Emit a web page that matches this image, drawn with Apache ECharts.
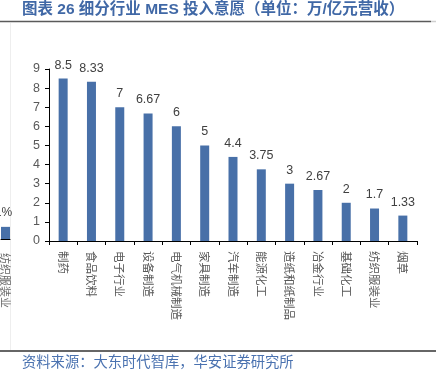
<!DOCTYPE html>
<html>
<head>
<meta charset="utf-8">
<script src="https://cdn.jsdelivr.net/npm/echarts@6/dist/echarts.min.js"></script>
<style>
html,body{margin:0;padding:0;background:#fff;}
#c{width:436px;height:373px;}
</style>
</head>
<body>
<div id="c"></div>
<script>
// Data
var categories = ['制药','食品饮料','电子行业','设备制造','电气机械制造','家具制造','汽车制造','能源化工','造纸和纸制品','冶金行业','基础化工','纺织服装业','烟草'];
var values = [8.5, 8.33, 7, 6.67, 6, 5, 4.4, 3.75, 3, 2.67, 2, 1.7, 1.33];
var yTicks = [0,1,2,3,4,5,6,7,8,9];
// Fragment of the neighbouring chart, cut at the left edge
var sideCategories = ['纺织服装业'];
var sideValues = [1];

var titleText = '图表 26 细分行业 MES 投入意愿（单位：万/亿元营收）';
var sourceText = '资料来源：大东时代智库，华安证券研究所';

var chart = echarts.init(document.getElementById('c'), null, {renderer:'canvas'});
var barColor = '#4870a8';
var cnFont = '"Noto Sans CJK SC", sans-serif';
var numFont = '"Liberation Sans", Arial, sans-serif';

chart.setOption({
  animation: false,
  backgroundColor: '#fff',
  grid: [
    {left: 49, right: 19, top: 69, bottom: 132, containLabel: false},
    {left: -11, width: 21, top: 69, bottom: 134, containLabel: false}
  ],
  xAxis: [
    {
      type: 'category', gridIndex: 0, data: categories,
      axisLine: {lineStyle: {color: '#000', width: 1}},
      axisTick: {show: true, length: 4, lineStyle: {color: '#000'}},
      axisLabel: {rotate: -90, margin: 10, fontSize: 11.5, color: '#595959', fontFamily: cnFont, interval: 0}
    },
    {
      type: 'category', gridIndex: 1, data: sideCategories,
      axisLine: {lineStyle: {color: '#000', width: 1}},
      axisTick: {show: false},
      axisLabel: {rotate: -90, margin: 14, fontSize: 11, color: '#6a6a6a', fontFamily: cnFont, interval: 0}
    }
  ],
  yAxis: [
    {
      type: 'value', gridIndex: 0, min: yTicks[0], max: yTicks[yTicks.length-1], interval: 1,
      splitLine: {show: false},
      axisLine: {show: true, lineStyle: {color: '#000', width: 1}},
      axisTick: {show: true, length: 4, lineStyle: {color: '#000'}},
      axisLabel: {margin: 9, fontSize: 12.5, color: '#595959', fontFamily: numFont}
    },
    {
      type: 'value', gridIndex: 1, min: 0, max: 14, show: false, splitLine: {show: false}
    }
  ],
  series: [
    {
      type: 'bar', xAxisIndex: 0, yAxisIndex: 0, data: values, barWidth: 9,
      itemStyle: {color: barColor},
      label: {show: true, position: 'top', distance: 7, fontSize: 12.5, color: '#404040', fontFamily: numFont}
    },
    {
      type: 'bar', xAxisIndex: 1, yAxisIndex: 1, data: sideValues, barWidth: 9,
      itemStyle: {color: barColor},
      label: {show: true, position: 'top', distance: 8, fontSize: 12, color: '#404040', fontFamily: numFont, formatter: '{c}%', offset: [-2, 0]}
    }
  ],
  graphic: [
    {type: 'text', left: 22, top: 2, style: {text: titleText, fill: '#4068a6', font: 'bold 15.5px "Liberation Sans", "Noto Sans CJK SC", sans-serif'}},
    {type: 'line', shape: {x1: 0, y1: 21.5, x2: 431, y2: 21.5}, style: {stroke: '#5a5a5a', lineWidth: 1.5}},
    {type: 'line', shape: {x1: 431, y1: 21.5, x2: 436, y2: 21.5}, style: {stroke: '#cfcfcf', lineWidth: 1.5}},
    {type: 'line', shape: {x1: 10.5, y1: 23, x2: 10.5, y2: 350}, style: {stroke: '#eeeeee', lineWidth: 1}},
    {type: 'line', shape: {x1: 0, y1: 351, x2: 436, y2: 351}, style: {stroke: '#333333', lineWidth: 1.5}},
    {type: 'text', left: 22, top: 354, style: {text: sourceText, font: '14.3px "Noto Sans CJK SC", sans-serif', fill: '#4a72b0'}}
  ]
});
</script>
</body>
</html>
